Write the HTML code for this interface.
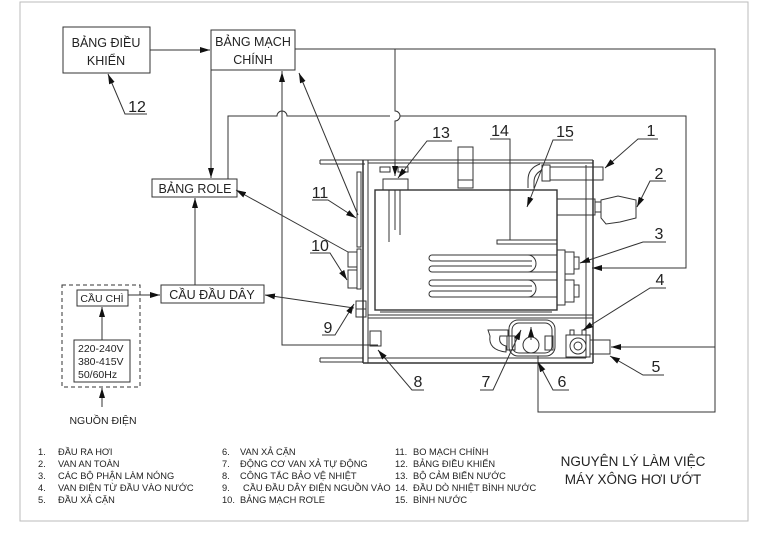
<!DOCTYPE html>
<html><head><meta charset="utf-8"><style>
html,body{margin:0;padding:0;background:#fff}
svg{display:block}
text{font-family:"Liberation Sans","DejaVu Sans",sans-serif;fill:#222}
</style></head><body>
<svg width="768" height="543" viewBox="0 0 768 543" xmlns="http://www.w3.org/2000/svg">
<defs>
<marker id="a" viewBox="0 0 10 6" refX="10" refY="3" markerWidth="10" markerHeight="6" orient="auto" markerUnits="userSpaceOnUse"><path d="M0,0 L10,3 L0,6 z" fill="#111"/></marker>
</defs>
<rect x="20" y="2" width="728" height="519" fill="none" stroke="#bbb" stroke-width="1"/>
<g fill="none" stroke="#333" stroke-width="1">
<!-- blocks -->
<rect x="63" y="27" width="87" height="46"/>
<rect x="211" y="30" width="84" height="40"/>
<rect x="152" y="179" width="85" height="18"/>
<rect x="161" y="285" width="103" height="18"/>
<rect x="62" y="285" width="78" height="102" stroke-dasharray="4,3"/>
<rect x="77" y="290" width="51" height="16"/>
<rect x="74" y="340" width="56" height="42"/>
<!-- arrows left -->
<line x1="150" y1="50" x2="210" y2="50" marker-end="url(#a)"/>
<line x1="102" y1="407" x2="102" y2="388" marker-end="url(#a)"/>
<line x1="102" y1="340" x2="102" y2="307" marker-end="url(#a)"/>
<line x1="128" y1="295" x2="160" y2="295" marker-end="url(#a)"/>
<line x1="195" y1="285" x2="195" y2="198" marker-end="url(#a)"/>
<line x1="211" y1="70" x2="211" y2="178" marker-end="url(#a)"/>
<polyline points="147,114 125,114 108,74" marker-end="url(#a)"/>
<line x1="358" y1="215" x2="299" y2="73" marker-end="url(#a)"/>
<polyline points="348,252 236,190" marker-end="url(#a)"/>
<line x1="354" y1="308" x2="265" y2="295" marker-end="url(#a)"/>
<!-- wires -->
<polyline points="295,49 715,49 715,412 538,412 538,356" />
<line x1="715" y1="347" x2="611" y2="347" marker-end="url(#a)"/>
<path d="M395,49 V111 a5,5 0 0 1 0,10 V176" marker-end="url(#a)"/>
<path d="M228,179 V116 H277 a5,5 0 0 1 10,0 H390 M400,116 H686 V268 H593" />
<line x1="686" y1="268" x2="592" y2="268" marker-end="url(#a)"/>
<path d="M282,71 V345 H378" />
<line x1="282" y1="90" x2="282" y2="72" marker-end="url(#a)"/>
<!-- housing -->
<line x1="320" y1="160" x2="593" y2="160"/>
<line x1="320" y1="164" x2="365" y2="164"/>
<line x1="320" y1="160" x2="320" y2="164"/>
<line x1="368" y1="163" x2="593" y2="163"/>
<line x1="320" y1="358" x2="363" y2="358"/>
<line x1="320" y1="362" x2="363" y2="362"/>
<line x1="320" y1="358" x2="320" y2="362"/>
<line x1="363" y1="160" x2="363" y2="363" stroke-width="1.5"/>
<line x1="368" y1="160" x2="368" y2="363"/>
<line x1="363" y1="363" x2="593" y2="363" stroke-width="1.5"/>
<line x1="593" y1="160" x2="593" y2="363" stroke-width="1.5"/>
<line x1="586" y1="165" x2="586" y2="358"/>
<line x1="368" y1="315" x2="593" y2="315"/>
<line x1="368" y1="318" x2="593" y2="318"/>
<line x1="368" y1="358" x2="586" y2="358"/>
<!-- tank -->
<rect x="375" y="190" width="182" height="120" stroke-width="1.4"/>
<line x1="380" y1="312" x2="552" y2="312"/>
<!-- chimney -->
<rect x="458" y="147" width="15" height="41"/>
<line x1="458" y1="180" x2="473" y2="180"/>
<!-- steam pipe 1 -->
<path d="M528,188 v-8 q0,-12 12,-16"/>
<path d="M534,188 v-6 q0,-8 8,-12"/>
<rect x="542" y="165" width="8" height="16"/>
<rect x="550" y="167" width="53" height="13"/>
<!-- valve 2 -->
<rect x="557" y="199" width="38" height="16"/>
<rect x="595" y="202" width="6" height="10"/>
<path d="M601,200 L618,196 L636,200 L636,218 L620,222 L606,224 L601,218 Z"/>
<!-- sensor 13 -->
<rect x="383" y="179" width="25" height="11"/>
<rect x="380" y="167" width="10" height="5"/>
<rect x="398" y="167" width="10" height="5"/>
<line x1="389" y1="190" x2="389" y2="242"/>
<line x1="395" y1="190" x2="395" y2="230"/>
<line x1="400" y1="190" x2="400" y2="235"/>
<!-- 14 bar -->
<rect x="497" y="240" width="60" height="4"/>
<!-- heaters -->
<path d="M532,255 H432 a3,3 0 0 0 0,6 H532"/>
<path d="M532,266 H432 a3,3 0 0 0 0,6 H532"/>
<path d="M532,280 H432 a3,3 0 0 0 0,6 H532"/>
<path d="M532,291 H432 a3,3 0 0 0 0,6 H532"/>
<path d="M528,255 a8,8.5 0 0 1 0,17"/>
<path d="M528,280 a8,8.5 0 0 1 0,17"/>
<line x1="532" y1="255" x2="557" y2="255"/><line x1="532" y1="272" x2="557" y2="272"/>
<line x1="532" y1="280" x2="557" y2="280"/><line x1="532" y1="297" x2="557" y2="297"/>
<rect x="557" y="250" width="8" height="55"/>
<rect x="565" y="252" width="9" height="22"/>
<rect x="565" y="280" width="9" height="22"/>
<rect x="574" y="257" width="5" height="12"/>
<rect x="574" y="285" width="5" height="12"/>
<!-- board 11 / relay 10 -->
<rect x="357" y="172" width="4" height="75"/>
<rect x="357" y="249" width="4" height="40"/>
<rect x="348" y="252" width="9" height="15"/>
<rect x="348" y="270" width="9" height="18"/>
<!-- 9 / 8 -->
<rect x="356" y="301" width="10" height="16"/>
<line x1="356" y1="309" x2="366" y2="309"/>
<rect x="370" y="331" width="11" height="15"/>
<!-- pump 6/7 -->
<rect x="509" y="320" width="46" height="36" rx="9"/>
<rect x="512" y="323" width="40" height="30" rx="7"/>
<path d="M488,330 h20 v6 h-8 q-2,8 6,10 v6 q-18,-2 -16,-16 z"/>
<rect x="507" y="336" width="8" height="14"/>
<rect x="545" y="336" width="8" height="14"/>
<circle cx="531" cy="345" r="8"/>
<!-- valve 4 -->
<rect x="566" y="335" width="24" height="22"/>
<circle cx="578" cy="346" r="8"/><circle cx="578" cy="346" r="4"/>
<rect x="570" y="330" width="4" height="5"/><rect x="582" y="330" width="4" height="5"/>
<rect x="590" y="340" width="20" height="14"/>
<!-- leaders -->
<polyline points="452,141 427,141 398,178" marker-end="url(#a)"/>
<polyline points="490,139 510,139 510,240"/>
<polyline points="573,140 553,140 527,207" marker-end="url(#a)"/>
<polyline points="658,139 638,139 605,168" marker-end="url(#a)"/>
<polyline points="666,181 650,181 637,207" marker-end="url(#a)"/>
<polyline points="666,242 643,242 580,263" marker-end="url(#a)"/>
<polyline points="666,288 650,288 583,330" marker-end="url(#a)"/>
<polyline points="664,375 643,375 610,356" marker-end="url(#a)"/>
<polyline points="569,390 553,390 538,362" marker-end="url(#a)"/>
<line x1="531" y1="340" x2="531" y2="327" marker-end="url(#a)"/>
<polyline points="480,390 493,390 521,330" marker-end="url(#a)"/>
<polyline points="424,390 412,390 378,350" marker-end="url(#a)"/>
<polyline points="322,335 335,335 354,304" marker-end="url(#a)"/>
<polyline points="310,253 330,253 347,280" marker-end="url(#a)"/>
<polyline points="312,200 328,200 356,218" marker-end="url(#a)"/>
</g>
<!-- block labels -->
<g font-size="12.5" text-anchor="middle">
<text x="106" y="47">BẢNG ĐIỀU</text><text x="106" y="65">KHIỂN</text>
<text x="253" y="46">BẢNG MẠCH</text><text x="253" y="64">CHÍNH</text>
<text x="195" y="193">BẢNG ROLE</text>
<text x="212" y="299">CẦU ĐẦU DÂY</text>
</g>
<text x="102" y="302" font-size="10.5" text-anchor="middle">CẦU CHÌ</text>
<g font-size="10.5"><text x="78" y="352">220-240V</text><text x="78" y="365">380-415V</text><text x="78" y="378">50/60Hz</text></g>
<text x="103" y="424" font-size="10.5" text-anchor="middle">NGUỒN ĐIỆN</text>
<!-- numbers -->
<g font-size="16" text-anchor="middle">
<text x="137" y="112">12</text>
<text x="320" y="198">11</text>
<text x="320" y="251">10</text>
<text x="328" y="333">9</text>
<text x="441" y="138">13</text>
<text x="500" y="136">14</text>
<text x="565" y="137">15</text>
<text x="651" y="136">1</text>
<text x="659" y="179">2</text>
<text x="659" y="239">3</text>
<text x="660" y="285">4</text>
<text x="656" y="372">5</text>
<text x="562" y="387">6</text>
<text x="486" y="387">7</text>
<text x="418" y="387">8</text>
</g>
<!-- legend -->
<g font-size="9.3">
<text x="38" y="455">1.</text><text x="58" y="455">ĐẦU RA HƠI</text>
<text x="38" y="467">2.</text><text x="58" y="467">VAN AN TOÀN</text>
<text x="38" y="479">3.</text><text x="58" y="479">CÁC BỘ PHẬN LÀM NÓNG</text>
<text x="38" y="491">4.</text><text x="58" y="491">VAN ĐIỆN TỪ ĐẦU VÀO NƯỚC</text>
<text x="38" y="503">5.</text><text x="58" y="503">ĐẦU XẢ CẶN</text>
<text x="222" y="455">6.</text><text x="240" y="455">VAN XẢ CẶN</text>
<text x="222" y="467">7.</text><text x="240" y="467">ĐỘNG CƠ VAN XẢ TỰ ĐỘNG</text>
<text x="222" y="479">8.</text><text x="240" y="479">CÔNG TẮC BẢO VỆ NHIỆT</text>
<text x="222" y="491">9.</text><text x="243" y="491">CẦU ĐẦU DÂY ĐIỆN NGUỒN VÀO</text>
<text x="222" y="503">10.</text><text x="240" y="503">BẢNG MẠCH RƠLE</text>
<text x="395" y="455">11.</text><text x="413" y="455">BO MẠCH CHÍNH</text>
<text x="395" y="467">12.</text><text x="413" y="467">BẢNG ĐIỀU KHIỂN</text>
<text x="395" y="479">13.</text><text x="413" y="479">BỘ CẢM BIẾN NƯỚC</text>
<text x="395" y="491">14.</text><text x="413" y="491">ĐẦU DÒ NHIỆT BÌNH NƯỚC</text>
<text x="395" y="503">15.</text><text x="413" y="503">BÌNH NƯỚC</text>
</g>
<g font-size="13.5" text-anchor="middle">
<text x="633" y="466">NGUYÊN LÝ LÀM VIỆC</text>
<text x="633" y="484">MÁY XÔNG HƠI ƯỚT</text>
</g>
</svg>
</body></html>
